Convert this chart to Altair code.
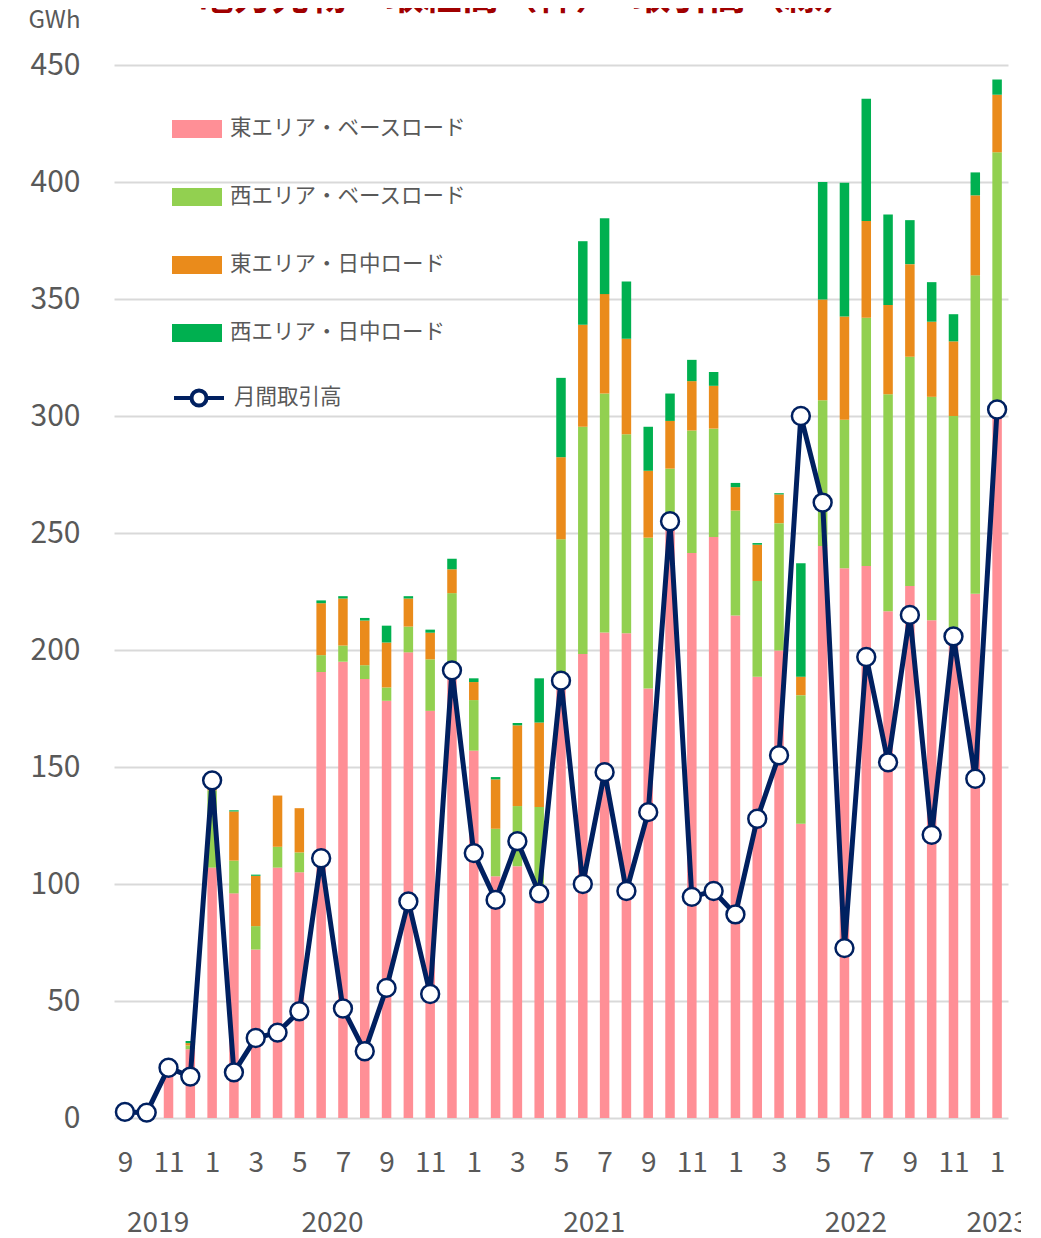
import altair as alt
import pandas as pd

# ---- data (GWh) ----
months = []
for i in range(41):
    y = 2019 + (8 + i) // 12
    m = (8 + i) % 12 + 1
    months.append(f"{y}-{m:02d}")

series_names = ["東エリア・ベースロード", "西エリア・ベースロード", "東エリア・日中ロード", "西エリア・日中ロード"]
series_colors = ["#FF8F96", "#92D050", "#EA8B1B", "#00B050"]

east_base = [0, 0, 20.0, 29.4, 107.0, 96.0, 72.0, 107.0, 105.0, 190.6,
             195.0, 187.6, 178.3, 199.0, 174.0, 190.0, 157.0, 103.3, 107.6, 94.0,
             185.0, 198.3, 207.5, 207.2, 183.5, 254.0, 241.5, 248.3, 214.7, 188.6,
             199.8, 125.8, 244.4, 234.9, 235.9, 216.6, 227.3, 212.7, 203.0, 224.0,
             300.0]
west_base = [0, 0, 0, 1.6, 33.0, 14.0, 10.0, 8.9, 8.5, 7.2,
             6.9, 5.9, 5.7, 11.0, 22.0, 34.3, 21.6, 20.3, 25.7, 38.9,
             62.3, 97.1, 102.1, 85.0, 64.5, 23.5, 52.3, 46.3, 44.9, 40.9,
             54.4, 54.9, 62.3, 63.5, 106.1, 92.7, 98.0, 95.5, 97.0, 136.1,
             112.7]
east_day = [0, 0, 0, 1.0, 3.0, 21.0, 21.5, 21.9, 18.9, 22.2,
            20.1, 19.1, 19.2, 12.0, 11.4, 10.2, 7.7, 21.1, 34.5, 36.1,
            35.1, 43.6, 42.5, 40.8, 28.6, 20.4, 21.1, 18.3, 10.0, 15.5,
            12.3, 7.9, 43.1, 44.1, 41.3, 38.1, 39.6, 32.1, 31.9, 34.2,
            24.6]
west_day = [0, 0, 0, 0.9, 0.5, 0.5, 0.5, 0, 0, 1.2,
            1.0, 1.1, 7.2, 1.0, 1.3, 4.5, 1.6, 1.0, 1.0, 18.9,
            33.9, 35.7, 32.4, 24.5, 18.8, 11.7, 9.1, 5.9, 1.8, 0.7,
            0.5, 48.5, 50.2, 57.2, 52.3, 38.7, 18.8, 16.9, 11.6, 9.8,
            6.5]
monthly_volume = [2.6, 2.3, 21.5, 17.7, 144.3, 19.5, 34.2, 36.5, 45.6, 111.0,
                  46.8, 28.5, 55.6, 92.5, 53.0, 191.3, 113.2, 93.2, 118.3, 96.0,
                  186.9, 100.0, 147.8, 97.0, 130.7, 255.0, 94.5, 97.0, 87.0, 127.9,
                  155.0, 300.0, 263.0, 72.6, 197.0, 152.0, 215.0, 121.0, 205.8, 145.0,
                  302.8]
line_name = "月間取引高"

month_tick_values = list(range(0, 41, 2))
year_tick_values = [1.5, 9.5, 21.5, 33.5, 40]
y_ticks = list(range(0, 451, 50))

# ---- tables ----
rows = []
for i, mth in enumerate(months):
    for k, (name, vals) in enumerate(zip(series_names, [east_base, west_base, east_day, west_day])):
        rows.append({"idx": i, "month": mth, "series": name, "order": k, "value": vals[i]})
bars_df = pd.DataFrame(rows)
line_df = pd.DataFrame({"idx": list(range(len(months))), "month": months,
                        "value": monthly_volume, "series": line_name})

FONT = "Noto Sans CJK JP"
GRAY = "#595959"

x_scale = alt.Scale(domain=[-0.5, 40.5], nice=False, zero=False, padding=0)
y_scale = alt.Scale(domain=[0, 450], nice=False, padding=0)

month_axis = alt.Axis(values=month_tick_values, labelExpr="(datum.value + 8) % 12 + 1",
                      title=None, grid=False, domain=False, ticks=False, tickSize=0,
                      labelFontSize=28, labelColor=GRAY, labelFont=FONT, labelPadding=31,
                      labelFlush=False, labelOverlap=False, orient="bottom")
year_axis = alt.Axis(values=year_tick_values, labelExpr="floor((datum.value + 8) / 12) + 2019",
                     title=None, grid=False, domain=False, ticks=False, tickSize=0,
                     labelFontSize=28, labelColor=GRAY, labelFont=FONT, labelPadding=31,
                     labelFlush=False, labelOverlap=False, orient="bottom", offset=60)
y_axis = alt.Axis(values=y_ticks, title="GWh", titleAngle=0, titleAlign="right",
                  titleBaseline="alphabetic", titleX=-34, titleY=-38,
                  titleFontSize=24, titleFontWeight="normal", titleColor=GRAY, titleFont=FONT,
                  labelFontSize=30, labelColor=GRAY, labelFont=FONT, labelPadding=34,
                  labelFlush=False, labelOverlap=False,
                  domain=False, ticks=False, tickSize=0, grid=True,
                  gridColor="#D9D9D9", gridWidth=2, orient="left")

bars = alt.Chart(bars_df).mark_bar(size=9.5).encode(
    x=alt.X("idx:Q", scale=x_scale, axis=month_axis),
    y=alt.Y("value:Q", stack="zero", scale=y_scale, axis=y_axis),
    color=alt.Color("series:N",
                    scale=alt.Scale(domain=series_names, range=series_colors),
                    legend=alt.Legend(title=None, orient="none", legendX=58, legendY=39,
                                      symbolType="M-1,-0.36H1V0.36H-1Z", symbolSize=2500,
                                      symbolStrokeWidth=0, symbolOpacity=1,
                                      labelFontSize=21.5, labelColor=GRAY, labelFont=FONT,
                                      labelOffset=8, rowPadding=32, padding=0,
                                      labelLimit=400, direction="vertical")),
    order=alt.Order("order:Q", sort="ascending"),
)

line = alt.Chart(line_df).mark_line(strokeWidth=5).encode(
    x=alt.X("idx:Q", scale=x_scale, axis=year_axis),
    y=alt.Y("value:Q", scale=y_scale, axis=y_axis),
    stroke=alt.Stroke("series:N",
                      scale=alt.Scale(domain=[line_name], range=["#002060"]),
                      legend=alt.Legend(title=None, orient="none", legendX=58, legendY=306,
                                        symbolType="M-1,0H-0.3M0.3,0H1M0.3,0A0.3,0.3 0 1,1 -0.3,0A0.3,0.3 0 1,1 0.3,0Z",
                                        symbolSize=2500, symbolStrokeWidth=4,
                                        symbolFillColor="white",
                                        labelFontSize=21.5, labelColor=GRAY, labelFont=FONT,
                                        labelOffset=8, padding=0, labelLimit=400)),
)

points = alt.Chart(line_df).mark_point(filled=True, fill="white", stroke="#002060",
                                       strokeWidth=2.5, size=320, opacity=1).encode(
    x=alt.X("idx:Q", scale=x_scale, axis=None),
    y=alt.Y("value:Q", scale=y_scale, axis=y_axis),
)

chart = alt.layer(bars, line, points).resolve_axis(x="independent", y="shared").properties(
    width=894, height=1053,
    autosize=alt.AutoSizeParams(type="none"),
    padding={"left": 106, "top": 57, "right": 13, "bottom": 120},
    title=alt.TitleParams("電力先物　取組高（棒）　取引高（線）", fontSize=38, font=FONT,
                          fontWeight="bold", color="#A00000", anchor="middle",
                          frame="group", offset=0, dy=9, dx=-33),
).configure_view(stroke=None)

chart.save("out.html", embed_options={"renderer": "svg", "actions": False})
